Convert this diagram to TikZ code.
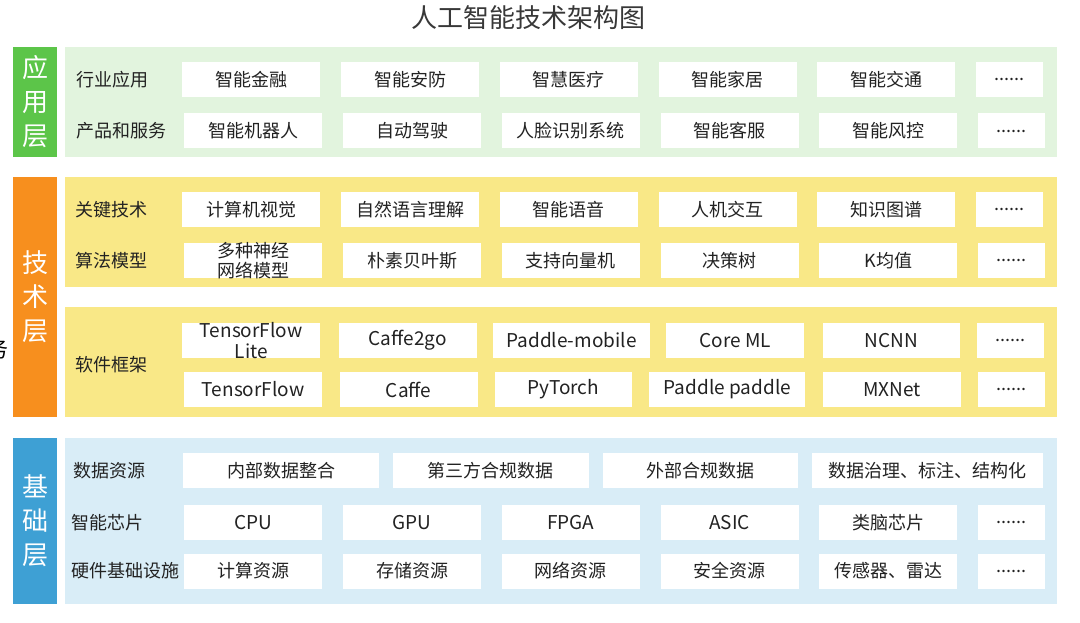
\documentclass[tikz,border=0pt]{standalone}
\usepackage{fontspec}
\setmainfont{Noto Sans CJK SC}
\usepackage{tikz}
\usetikzlibrary{positioning}
\definecolor{app_green}{RGB}{92,197,73}
\definecolor{app_light}{RGB}{226,244,222}
\definecolor{tech_orange}{RGB}{247,143,30}
\definecolor{tech_light}{RGB}{249,232,135}
\definecolor{base_blue}{RGB}{62,160,212}
\definecolor{base_light}{RGB}{217,237,247}
\definecolor{text_dark}{RGB}{34,34,34}

\begin{document}
\begin{tikzpicture}[
    x=1pt, y=-1pt,
    font=\fontsize{18}{20}\selectfont,
    text=text_dark,
    node distance=20.4pt,
    % Styles
    cell/.style={
        rectangle, fill=white, inner sep=0pt, minimum width=138pt, minimum height=35pt, align=center
    },
    cell_more/.style={cell, minimum width=67pt},
    latin/.style={font=\fontsize{19}{20}\selectfont},
    two_line/.style={font=\fontsize{18}{20}\selectfont, align=center, inner sep=0pt, text=text_dark},
    row_label/.style={anchor=west, inner sep=0pt},
    side_bar/.style={
        rectangle, inner sep=0pt, minimum width=44pt, text=white, align=center, font=\fontsize{26}{34}\selectfont
    }
]
\useasboundingbox (0,0) rectangle (1080,623);

% Title
\node[font=\fontsize{26}{28}\selectfont, text=black!78] (title) at (528,18) {人工智能技术架构图};
\node[font=\fontsize{22}{24}\selectfont, text=black] (cut_char) at (-2,349) {务};

% 1. Application layer
\fill[app_light] (65,47) rectangle (1057,157);
\node[side_bar, fill=app_green, minimum height=110pt] (app_bar) at (35,102) {应\\用\\层};

\node[row_label] (ind_lbl) at (76,79.5) {行业应用};
\node[cell, anchor=west] (ind_1) at (182,79.5) {智能金融};
\node[cell, right=of ind_1] (ind_2) {智能安防};
\node[cell, right=of ind_2] (ind_3) {智慧医疗};
\node[cell, right=of ind_3] (ind_4) {智能家居};
\node[cell, right=of ind_4] (ind_5) {智能交通};
\node[cell_more, right=of ind_5] (ind_6) {......};

\node[row_label] (prod_lbl) at (76,131) {产品和服务};
\node[cell, anchor=west] (prod_1) at (184,131) {智能机器人};
\node[cell, right=of prod_1] (prod_2) {自动驾驶};
\node[cell, right=of prod_2] (prod_3) {人脸识别系统};
\node[cell, right=of prod_3] (prod_4) {智能客服};
\node[cell, right=of prod_4] (prod_5) {智能风控};
\node[cell_more, right=of prod_5] (prod_6) {......};

% 2. Technology layer
\fill[tech_light] (65,177) rectangle (1057,287);
\fill[tech_light] (65,307) rectangle (1057,417);
\node[side_bar, fill=tech_orange, minimum height=240pt] (tech_bar) at (35,297) {技\\术\\层};

\node[row_label] (key_lbl) at (75,209.5) {关键技术};
\node[cell, anchor=west] (key_1) at (182,209.5) {计算机视觉};
\node[cell, right=of key_1] (key_2) {自然语言理解};
\node[cell, right=of key_2] (key_3) {智能语音};
\node[cell, right=of key_3] (key_4) {人机交互};
\node[cell, right=of key_4] (key_5) {知识图谱};
\node[cell_more, right=of key_5] (key_6) {......};

\node[row_label] (algo_lbl) at (75,260.5) {算法模型};
\node[cell, anchor=west, label={[two_line]center:多种神经\\网络模型}] (algo_1) at (184,260.5) {};
\node[cell, right=of algo_1] (algo_2) {朴素贝叶斯};
\node[cell, right=of algo_2] (algo_3) {支持向量机};
\node[cell, right=of algo_3] (algo_4) {决策树};
\node[cell, right=of algo_4] (algo_5) {K均值};
\node[cell_more, right=of algo_5] (algo_6) {......};

% software frameworks
\node[row_label] (soft_lbl) at (75,365) {软件框架};
\node[cell, anchor=west, label={[two_line, font=\fontsize{19}{21}\selectfont]center:TensorFlow\\Lite}] (mob_1) at (182,340.5) {};
\node[cell, latin, right=18pt of mob_1] (mob_2) {Caffe2go};
\node[cell, latin, right=16pt of mob_2, minimum width=157pt] (mob_3) {Paddle-mobile};
\node[cell, latin, right=16pt of mob_3] (mob_4) {Core ML};
\node[cell, latin, right=18pt of mob_4, minimum width=137pt] (mob_5) {NCNN};
\node[cell_more, right=17pt of mob_5] (mob_6) {......};

\node[cell, latin, anchor=west] (frm_1) at (184,389.5) {TensorFlow};
\node[cell, latin, right=17pt of frm_1] (frm_2) {Caffe};
\node[cell, latin, right=17pt of frm_2, minimum width=137pt] (frm_3) {PyTorch};
\node[cell, latin, right=17pt of frm_3, minimum width=156pt] (frm_4) {Paddle paddle};
\node[cell, latin, right=17pt of frm_4] (frm_5) {MXNet};
\node[cell_more, right=17pt of frm_5] (frm_6) {......};

% 3. Foundation layer
\fill[base_light] (65,438) rectangle (1057,604);
\node[side_bar, fill=base_blue, minimum height=166pt] (base_bar) at (35,521) {基\\础\\层};

\node[row_label] (data_lbl) at (73,470.5) {数据资源};
\node[cell, anchor=west, minimum width=196pt] (data_1) at (183,470.5) {内部数据整合};
\node[cell, right=13pt of data_1, minimum width=196pt] (data_2) {第三方合规数据};
\node[cell, right=14pt of data_2, minimum width=195pt] (data_3) {外部合规数据};
\node[cell, right=14pt of data_3, minimum width=231pt] (data_4) {数据治理、标注、结构化};

\node[row_label] (chip_lbl) at (71,522.5) {智能芯片};
\node[cell, latin, anchor=west] (chip_1) at (184,522.5) {CPU};
\node[cell, latin, right=of chip_1] (chip_2) {GPU};
\node[cell, latin, right=of chip_2] (chip_3) {FPGA};
\node[cell, latin, right=of chip_3] (chip_4) {ASIC};
\node[cell, right=of chip_4] (chip_5) {类脑芯片};
\node[cell_more, right=of chip_5] (chip_6) {......};

\node[row_label] (hw_lbl) at (71,571) {硬件基础设施};
\node[cell, anchor=west] (hw_1) at (184,571) {计算资源};
\node[cell, right=of hw_1] (hw_2) {存储资源};
\node[cell, right=of hw_2] (hw_3) {网络资源};
\node[cell, right=of hw_3] (hw_4) {安全资源};
\node[cell, right=of hw_4] (hw_5) {传感器、雷达};
\node[cell_more, right=of hw_5] (hw_6) {......};

\end{tikzpicture}
\end{document}
